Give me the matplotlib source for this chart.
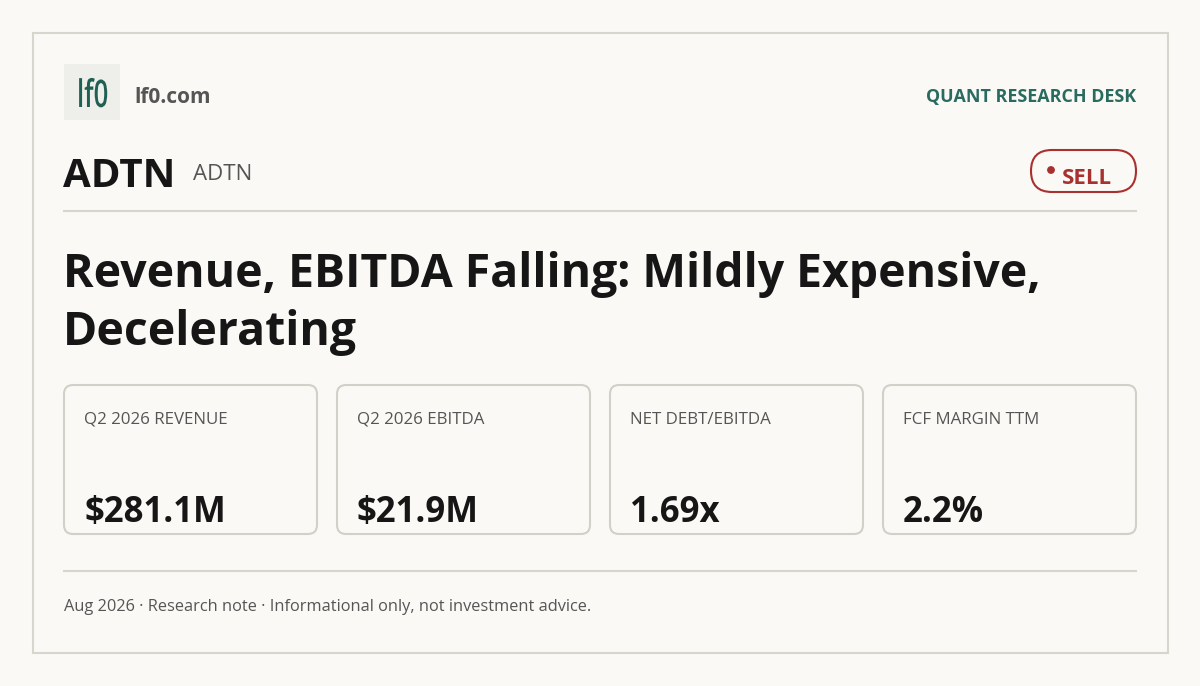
import matplotlib.pyplot as plt
from matplotlib.patches import FancyBboxPatch, Rectangle, Circle, PathPatch
from matplotlib.textpath import TextPath
from matplotlib.font_manager import FontProperties
from matplotlib.transforms import Affine2D

plt.rcParams['font.family'] = ['Open Sans', 'DejaVu Sans']

# content
brand = "lf0.com"
logo_text = "lf0"
desk = "QUANT RESEARCH DESK"
ticker = "ADTN"
ticker_sub = "ADTN"
rating = "SELL"
title_lines = ["Revenue, EBITDA Falling: Mildly Expensive,", "Decelerating"]
metric_labels = ["Q2 2026 REVENUE", "Q2 2026 EBITDA", "NET DEBT/EBITDA", "FCF MARGIN TTM"]
metric_values = ["$281.1M", "$21.9M", "1.69x", "2.2%"]
footer = "Aug 2026 \u00b7 Research note \u00b7 Informational only, not investment advice."

bg = "#faf9f6"
rule = "#d8d5cc"
teal = "#1f5f54"
red = "#a8302f"
ink = "#161616"
grey = "#555555"

fig = plt.figure(figsize=(12, 6.86), dpi=100, facecolor=bg)
ax = fig.add_axes([0, 0, 1, 1])
ax.set_xlim(0, 1200)
ax.set_ylim(686, 0)
ax.axis('off')
ax.set_facecolor(bg)

# outer frame
ax.add_patch(Rectangle((33, 33), 1135, 620, facecolor=bg, edgecolor=rule, lw=1.5))

# header: logo (condensed glyphs) + brand
ax.add_patch(Rectangle((64, 64), 56, 56, facecolor="#eeefea", edgecolor="none"))
tp = TextPath((0, 0), logo_text, size=38, prop=FontProperties(family='Open Sans', weight='semibold'))
logo_path = tp.transformed(Affine2D().scale(0.68, -1).translate(77, 107))
ax.add_patch(PathPatch(logo_path, facecolor=teal, edgecolor='none'))
ax.text(134, 103, brand, color=grey, fontsize=15, fontweight='bold', va='baseline')
ax.text(1136, 102, desk, color="#2a6b60", fontsize=12.9, fontweight='bold',
        ha='right', va='baseline')

# ticker row
ax.text(63, 187, ticker, color=ink, fontsize=29, fontweight='bold', va='baseline')
ax.text(193, 180, ticker_sub, color=grey, fontsize=16, va='baseline')

# rating badge
ax.add_patch(FancyBboxPatch((1031, 150), 105, 42,
                            boxstyle="round,pad=0,rounding_size=21",
                            facecolor="none", edgecolor=red, lw=1.5))
ax.add_patch(Circle((1051, 170), 3.2, color=red))
ax.text(1062, 184, rating, color=red, fontsize=16, fontweight='bold', va='baseline')

ax.plot([64, 1136], [211, 211], color=rule, lw=1.5)

# headline
for i, line in enumerate(title_lines):
    ax.text(63, 287 + i * 58, line, color=ink, fontsize=33.4, fontweight='bold', va='baseline')

# metric cards
card_w, card_h, gap = 253, 149, 20
for i, (lab, val) in enumerate(zip(metric_labels, metric_values)):
    x0 = 64 + i * (card_w + gap)
    ax.add_patch(FancyBboxPatch((x0, 385), card_w, card_h,
                                boxstyle="round,pad=0,rounding_size=9",
                                facecolor=bg, edgecolor="#d3d0c7", lw=1.5))
    ax.text(x0 + 20, 424, lab, color=grey, fontsize=12.2, va='baseline')
    ax.text(x0 + 20, 522, val, color=ink, fontsize=25, fontweight='bold', va='baseline')

ax.plot([64, 1136], [571, 571], color=rule, lw=1.5)
ax.text(64, 611, footer, color=grey, fontsize=11.8, va='baseline')

fig.savefig("out.png", dpi=100, facecolor=bg)
